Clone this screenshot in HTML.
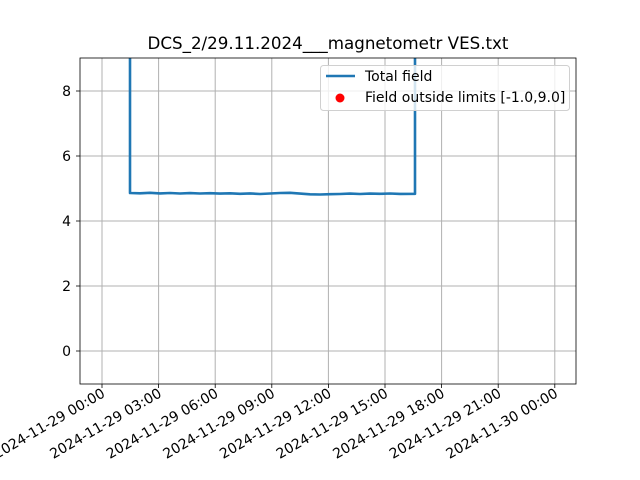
<!DOCTYPE html>
<html><head><meta charset="utf-8"><style>body{margin:0;background:#fff}svg{display:block}text{font-family:"DejaVu Sans","Liberation Sans",sans-serif;}</style></head>
<body>
<svg width="640" height="480" xmlns="http://www.w3.org/2000/svg">
<rect width="640" height="480" fill="#fff"/>
<g stroke="#b0b0b0" stroke-width="1">
<line x1="102" y1="58" x2="102" y2="384"/><line x1="158.6" y1="58" x2="158.6" y2="384"/><line x1="215.2" y1="58" x2="215.2" y2="384"/><line x1="271.8" y1="58" x2="271.8" y2="384"/><line x1="328.4" y1="58" x2="328.4" y2="384"/><line x1="385" y1="58" x2="385" y2="384"/><line x1="441.6" y1="58" x2="441.6" y2="384"/><line x1="498.2" y1="58" x2="498.2" y2="384"/><line x1="554.8" y1="58" x2="554.8" y2="384"/>
<line x1="80" y1="351" x2="576" y2="351"/><line x1="80" y1="286" x2="576" y2="286"/><line x1="80" y1="221" x2="576" y2="221"/><line x1="80" y1="156" x2="576" y2="156"/><line x1="80" y1="91" x2="576" y2="91"/>
</g>
<polyline points="130,58 130,193 140,193.3 150,192.8 160,193.4 170,193 180,193.5 190,193.1 200,193.5 210,193.2 220,193.6 230,193.3 240,193.8 250,193.4 260,194 270,193.5 280,193 290,192.8 300,193.6 310,194.3 320,194.5 330,194.2 340,194 350,193.6 360,194 370,193.6 380,193.8 390,193.5 400,193.9 415,193.8 415,58" fill="none" stroke="#1f77b4" stroke-width="2.6" stroke-linejoin="round"/>
<rect x="80" y="58" width="496" height="326" fill="none" stroke="#000" stroke-width="0.8"/>
<g stroke="#000" stroke-width="0.8">
<line x1="102" y1="384" x2="102" y2="388"/><line x1="158.6" y1="384" x2="158.6" y2="388"/><line x1="215.2" y1="384" x2="215.2" y2="388"/><line x1="271.8" y1="384" x2="271.8" y2="388"/><line x1="328.4" y1="384" x2="328.4" y2="388"/><line x1="385" y1="384" x2="385" y2="388"/><line x1="441.6" y1="384" x2="441.6" y2="388"/><line x1="498.2" y1="384" x2="498.2" y2="388"/><line x1="554.8" y1="384" x2="554.8" y2="388"/>
<line x1="76" y1="351" x2="80" y2="351"/><line x1="76" y1="286" x2="80" y2="286"/><line x1="76" y1="221" x2="80" y2="221"/><line x1="76" y1="156" x2="80" y2="156"/><line x1="76" y1="91" x2="80" y2="91"/>
</g>
<g font-size="14" text-anchor="end">
<text x="71" y="356">0</text><text x="71" y="291">2</text><text x="71" y="226">4</text><text x="71" y="161">6</text><text x="71" y="96">8</text>
</g>
<g font-size="14" text-anchor="end">
<text transform="translate(106,396) rotate(-30)">2024-11-29 00:00</text>
<text transform="translate(162.6,396) rotate(-30)">2024-11-29 03:00</text>
<text transform="translate(219.2,396) rotate(-30)">2024-11-29 06:00</text>
<text transform="translate(275.8,396) rotate(-30)">2024-11-29 09:00</text>
<text transform="translate(332.4,396) rotate(-30)">2024-11-29 12:00</text>
<text transform="translate(389,396) rotate(-30)">2024-11-29 15:00</text>
<text transform="translate(445.6,396) rotate(-30)">2024-11-29 18:00</text>
<text transform="translate(502.2,396) rotate(-30)">2024-11-29 21:00</text>
<text transform="translate(558.8,396) rotate(-30)">2024-11-30 00:00</text>
</g>
<text x="328" y="49" font-size="16.7" text-anchor="middle">DCS_2/29.11.2024___magnetometr VES.txt</text>
<rect x="320.5" y="65.5" width="249" height="45" rx="3" fill="#fff" fill-opacity="0.8" stroke="#d0d0d0"/>
<line x1="326" y1="76" x2="355" y2="76" stroke="#1f77b4" stroke-width="2.6"/>
<text x="365" y="81" font-size="14">Total field</text>
<circle cx="340" cy="98" r="4.5" fill="#ff0000"/>
<text x="365" y="102" font-size="14">Field outside limits [-1.0,9.0]</text>
</svg>
</body></html>
